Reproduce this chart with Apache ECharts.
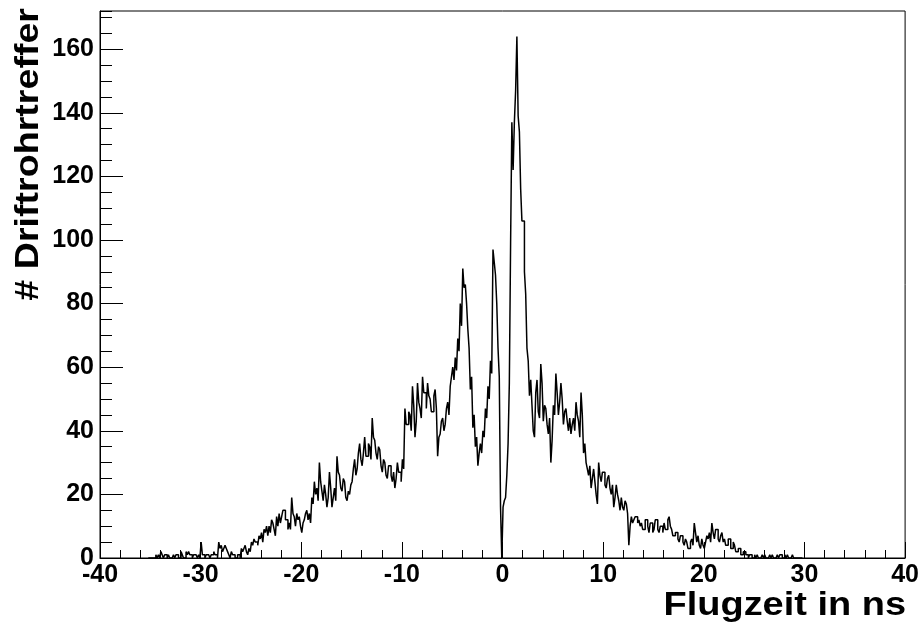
<!DOCTYPE html>
<html>
<head>
<meta charset="utf-8">
<script src="https://cdn.jsdelivr.net/npm/echarts@6/dist/echarts.min.js"></script>
<style>
html, body { margin: 0; padding: 0; background: #fff; }
#main { width: 922px; height: 625px; }
</style>
</head>
<body>
<div id="main"></div>
<script>
// Flugzeit histogram, bins of 0.125 ns (one row = 1 ns)
var binStart = -35.2;
var binWidth = 0.125;
var counts = [
  0,0,0,0,0,0,1,0,
  1,0,2,1,0,1,1,0,
  1,0,0,0,1,0,1,1,
  0,0,2,1,0,0,2,1,
  2,1,1,0,1,1,1,0,
  1,0,5,1,1,0,1,1,
  1,0,1,1,2,1,1,0,
  5,3,4,2,3,4,3,2,
  1,0,2,1,1,0,0,1,
  1,0,3,2,3,4,2,1,
  3,2,5,4,6,5,5,4,
  7,6,8,5,9,8,10,7,
  10,8,12,11,9,7,13,10,
  14,11,13,15,15,12,12,9,
  11,9,19,14,13,10,14,12,
  13,10,8,11,12,14,15,12,
  14,11,19,17,24,20,22,18,
  30,24,21,18,23,20,16,19,
  27,22,16,19,22,18,32,27,
  26,22,21,25,24,19,18,21,
  20,23,24,28,31,26,28,33,
  36,31,29,33,38,32,32,36,
  35,31,44,38,37,33,31,35,
  34,29,27,31,30,26,25,29,
  29,26,24,27,22,25,30,27,
  27,24,31,28,47,42,42,46,
  45,40,54,48,38,43,55,49,
  47,44,57,52,52,47,55,51,
  50,46,46,51,53,47,32,38,
  39,43,44,40,42,47,49,45,
  54,57,60,56,63,59,69,65,
  80,73,91,85,86,80,72,66,
  53,57,41,45,35,38,29,33,
  36,33,40,38,47,44,54,50,
  62,58,97,93,89,80,66,57,
  16,0,16,18,19,26,36,55,
  99,137,122,137,147,164,139,134,
  116,106,106,90,83,66,62,51,
  56,48,40,38,52,56,46,44,
  61,55,43,48,47,42,39,44,
  30,37,48,45,58,52,45,49,
  55,50,42,46,47,43,40,44,
  39,42,44,40,49,45,43,38,
  52,45,33,36,30,28,26,29,
  22,25,28,24,20,17,30,26,
  24,27,27,23,22,25,26,22,
  20,23,16,19,23,20,18,15,
  19,16,15,18,17,14,4,10,
  13,11,12,13,13,11,12,10,
  11,9,9,12,12,10,8,11,
  11,8,9,12,12,9,8,10,
  10,8,11,9,9,12,13,10,
  9,7,7,8,8,6,5,7,
  7,5,4,6,5,3,3,5,
  6,4,11,8,5,7,4,3,
  6,4,3,5,7,6,8,5,
  11,8,6,9,9,6,5,7,
  8,5,6,4,4,6,6,3,
  3,5,4,2,2,3,3,1,
  1,2,2,1,1,0,1,1,
  0,0,1,0,1,0,0,0,
  1,0,1,0,0,0,1,0,
  1,0,0,0,1,0,1,1,
  0,0,1,0,1,0,0,0,
  1,0,0,0,0,0,0,0
];
var xRange = [-40, 40];
var yRange = [0, 172];

var histData = counts.map(function (c, i) {
  return [binStart + i * binWidth, c];
});
histData.push([binStart + counts.length * binWidth, 0]);

var labelFont = {
  color: '#000',
  fontFamily: 'Liberation Sans',
  fontWeight: 'bold',
  fontSize: 25
};

var myChart = echarts.init(document.getElementById('main'));
myChart.setOption({
  animation: false,
  grid: {
    left: 100, right: 15, top: 11, bottom: 67,
    show: true,
    borderColor: '#000',
    borderWidth: 1
  },
  xAxis: [{
    type: 'value',
    min: xRange[0], max: xRange[1], interval: 10,
    axisLine: { onZero: false, lineStyle: { color: '#000', width: 1 } },
    axisTick: { inside: true, length: 16, lineStyle: { color: '#000' } },
    axisLabel: Object.assign({ margin: 5 }, labelFont),
    splitLine: { show: false }
  }, {
    type: 'value',
    position: 'bottom',
    min: xRange[0], max: xRange[1], interval: 2,
    axisLine: { show: false, onZero: false },
    axisTick: { inside: true, length: 8, lineStyle: { color: '#000' } },
    axisLabel: { show: false },
    splitLine: { show: false }
  }],
  yAxis: [{
    type: 'value',
    min: yRange[0], max: yRange[1], interval: 20,
    axisLine: { show: true, onZero: false, lineStyle: { color: '#000', width: 1 } },
    axisTick: { show: true, inside: true, length: 23, lineStyle: { color: '#000' } },
    axisLabel: Object.assign({ margin: 6, showMaxLabel: false }, labelFont),
    splitLine: { show: false }
  }, {
    type: 'value',
    position: 'left',
    min: yRange[0], max: yRange[1], interval: 5,
    axisLine: { show: false, onZero: false },
    axisTick: { show: true, inside: true, length: 12, lineStyle: { color: '#000' } },
    axisLabel: { show: false },
    splitLine: { show: false }
  }],
  graphic: [{
    type: 'text',
    x: 906, y: 606,
    scaleX: 1.15,
    style: {
      text: 'Flugzeit in ns',
      font: 'bold 33px "Liberation Sans"',
      fill: '#000',
      textAlign: 'right',
      textVerticalAlign: 'middle',
      verticalAlign: 'middle'
    }
  }, {
    type: 'text',
    x: 29, y: 8,
    rotation: Math.PI / 2,
    scaleX: 1.14,
    style: {
      text: '# Driftrohrtreffer',
      font: 'bold 33px "Liberation Sans"',
      fill: '#000',
      textAlign: 'right',
      textVerticalAlign: 'middle',
      verticalAlign: 'middle'
    }
  }],
  series: [{
    type: 'line',
    xAxisIndex: 0,
    yAxisIndex: 0,
    step: 'end',
    symbol: 'none',
    data: histData,
    lineStyle: { color: '#000', width: 1.5 }
  }]
});
</script>
</body>
</html>
